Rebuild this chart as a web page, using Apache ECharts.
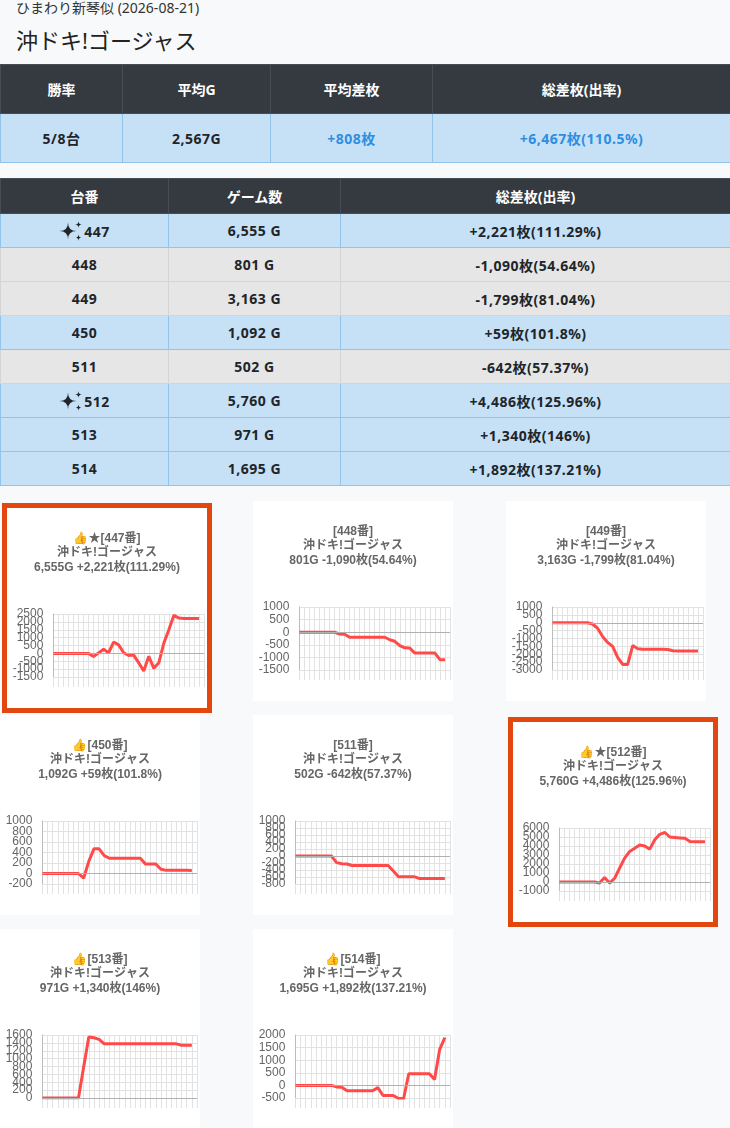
<!DOCTYPE html>
<html>
<head>
<meta charset="utf-8">
<script src="https://cdn.jsdelivr.net/npm/echarts@6/dist/echarts.min.js"></script>
<style>
  body { margin: 0; background: #f8f9fa; font-family: "Noto Sans", "Noto Sans CJK JP", sans-serif; color: #212529; }
  .store { position: absolute; left: 16px; top: 0; font-size: 14px; line-height: 16px; color: #333; }
  .machine { position: absolute; left: 16px; top: 26px; font-size: 22px; line-height: 28px; color: #222; }
  table { position: absolute; left: 0; width: 730px; border-collapse: collapse; table-layout: fixed; }
  th { background: #343a40; color: #fff; font-weight: bold; font-size: 14px; border: 1px solid #454d55; padding: 0; }
  td { text-align: center; font-weight: bold; font-size: 14px; letter-spacing: 0.5px; padding: 0; }
  tr.info td { background: #c6e1f6; border: 1px solid #92c3ea; }
  tr.gray td { background: #e6e6e6; border: 1px solid #d4d4d4; }
  #sum { top: 64px; }
  #sum th, #sum td { height: 48px; }
  #sum td.plus { color: #2f8ee0; }
  #units { top: 178px; }
  #units th { height: 34px; }
  #units td { height: 33px; }
  .spark { vertical-align: -4px; margin-right: 1px; }
  .card { position: absolute; width: 200px; height: 200px; background: #fff; }
  .card.hot { border: 5px solid #e2470f; }
</style>
</head>
<body>
<div class="store">ひまわり新琴似 (2026-08-21)</div>
<div class="machine">沖ドキ!ゴージャス</div>
<table id="sum"></table>
<table id="units"></table>
<div id="cards"></div>
<script>
// 集計
var sumHead = ['勝率', '平均G', '平均差枚', '総差枚(出率)'];
var sumVals = ['5/8台', '2,567G', '+808枚', '+6,467枚(110.5%)'];
var sumWidths = [122, 148, 162, 298];

// 台別
var unitHead = ['台番', 'ゲーム数', '総差枚(出率)'];
var unitNos = ['447', '448', '449', '450', '511', '512', '513', '514'];
var unitGames = ['6,555 G', '801 G', '3,163 G', '1,092 G', '502 G', '5,760 G', '971 G', '1,695 G'];
var unitDiff = ['+2,221枚(111.29%)', '-1,090枚(54.64%)', '-1,799枚(81.04%)', '+59枚(101.8%)',
                '-642枚(57.37%)', '+4,486枚(125.96%)', '+1,340枚(146%)', '+1,892枚(137.21%)'];
var unitRow = ['info', 'gray', 'gray', 'info', 'gray', 'info', 'info', 'info'];
var unitStar = [true, false, false, false, false, true, false, false];
var unitWidths = [168, 172, 390];

// グラフ
var cardTitles = [
  ['👍★[447番]', '沖ドキ!ゴージャス', '6,555G +2,221枚(111.29%)'],
  ['[448番]', '沖ドキ!ゴージャス', '801G -1,090枚(54.64%)'],
  ['[449番]', '沖ドキ!ゴージャス', '3,163G -1,799枚(81.04%)'],
  ['👍[450番]', '沖ドキ!ゴージャス', '1,092G +59枚(101.8%)'],
  ['[511番]', '沖ドキ!ゴージャス', '502G -642枚(57.37%)'],
  ['👍★[512番]', '沖ドキ!ゴージャス', '5,760G +4,486枚(125.96%)'],
  ['👍[513番]', '沖ドキ!ゴージャス', '971G +1,340枚(146%)'],
  ['👍[514番]', '沖ドキ!ゴージャス', '1,695G +1,892枚(137.21%)']
];
var xLabels = ['1','2','3','4','5','6','7','8','9','10','11','12','13','14','15','16',
               '17','18','19','20','21','22','23','24','25','26','27','28','29','30','31'];
var d447 = [0,0,0,0,0,0,0,0,-200,30,260,40,720,540,40,-130,-110,-600,-1120,-180,-950,-600,650,1500,2420,2240,2221,2221,2221,2221];
var d448 = [0,0,0,0,0,0,0,0,-70,-80,-200,-200,-200,-200,-200,-200,-200,-200,-300,-360,-530,-620,-630,-830,-830,-830,-830,-830,-1090,-1090];
var d449 = [0,0,0,0,0,0,0,0,-80,-350,-870,-1250,-1500,-2200,-2650,-2650,-1450,-1650,-1680,-1680,-1680,-1680,-1680,-1700,-1780,-1790,-1790,-1790,-1790,-1799];
var d450 = [0,0,0,0,0,0,0,0,-90,230,470,470,340,290,290,290,290,290,290,290,180,180,180,80,60,60,60,60,60,59];
var d511 = [0,0,0,0,0,0,0,0,-190,-220,-230,-270,-270,-270,-270,-270,-270,-270,-270,-430,-590,-590,-590,-590,-640,-640,-640,-640,-640,-642];
var d512 = [0,0,0,0,0,0,0,0,-100,500,-120,420,1550,2650,3400,3750,4100,4000,3650,4700,5300,5500,5000,4950,4900,4850,4500,4486,4486,4486];
var d513 = [0,0,0,0,0,0,0,0,780,1550,1530,1490,1375,1375,1375,1375,1375,1375,1375,1375,1375,1375,1375,1375,1375,1375,1375,1340,1340,1340];
var d514 = [0,0,0,0,0,0,0,0,-60,-70,-210,-210,-210,-210,-210,-210,-90,-400,-400,-400,-520,-520,460,460,460,460,460,230,1430,1892];
var cardData = [d447, d448, d449, d450, d511, d512, d513, d514];
var yMins = [-1500, -1500, -3000, -200, -800, -1000, 0, -500];
var yMaxs = [2500, 1000, 1000, 1000, 1000, 6000, 1600, 2000];
var yStep = [500, 500, 500, 200, 200, 1000, 200, 500];
var cardHot = [true, false, false, false, false, true, false, false];

var sparkSvg = '<svg class="spark" width="24" height="20" viewBox="0 0 24 20">' +
  '<path fill="#212529" d="M9 1.5 Q9 10 17.5 10 Q9 10 9 18.5 Q9 10 0.5 10 Q9 10 9 1.5Z"/>' +
  '<path fill="#212529" d="M19.5 0 Q19.5 3.5 23 3.5 Q19.5 3.5 19.5 7 Q19.5 3.5 16 3.5 Q19.5 3.5 19.5 0Z"/>' +
  '<path fill="#212529" d="M19.5 13 Q19.5 16.5 22.5 16.5 Q19.5 16.5 19.5 20 Q19.5 16.5 16.5 16.5 Q19.5 16.5 19.5 13Z"/>' +
  '</svg>';

function buildTables() {
  var h = '<colgroup>';
  sumWidths.forEach(function (w) { h += '<col style="width:' + w + 'px">'; });
  h += '</colgroup><tr>';
  sumHead.forEach(function (t) { h += '<th>' + t + '</th>'; });
  h += '</tr><tr class="info">';
  sumVals.forEach(function (t) {
    h += '<td class="' + (t.charAt(0) === '+' ? 'plus' : '') + '">' + t + '</td>';
  });
  h += '</tr>';
  document.getElementById('sum').innerHTML = h;

  var u = '<colgroup>';
  unitWidths.forEach(function (w) { u += '<col style="width:' + w + 'px">'; });
  u += '</colgroup><tr>';
  unitHead.forEach(function (t) { u += '<th>' + t + '</th>'; });
  u += '</tr>';
  unitNos.forEach(function (no, i) {
    u += '<tr class="' + unitRow[i] + '"><td>' + (unitStar[i] ? sparkSvg : '') + no + '</td>' +
         '<td>' + unitGames[i] + '</td><td>' + unitDiff[i] + '</td></tr>';
  });
  document.getElementById('units').innerHTML = u;
}

var font = '"Liberation Sans", Arial, "Noto Sans CJK JP", sans-serif';
var ctx = document.createElement('canvas').getContext('2d');
ctx.font = '12px ' + font;

function labelWidth(min, max, step) {
  var w = 0;
  for (var v = min; v <= max; v += step) {
    w = Math.max(w, ctx.measureText(String(v)).width);
  }
  return w;
}

// labels are split over two stacked axes so every tick keeps its label
function yAxisFor(i, part) {
  var min = yMins[i], step = yStep[i];
  return {
    type: 'value',
    position: 'left',
    min: min,
    max: yMaxs[i],
    interval: step,
    axisLine: { show: part === 0, lineStyle: { color: '#bcbcbc' } },
    axisTick: { show: false },
    axisLabel: {
      color: '#666', fontSize: 12, margin: 10, fontFamily: font,
      showMinLabel: true, showMaxLabel: true, hideOverlap: false,
      formatter: function (v) {
        var k = Math.round((v - min) / step);
        return k % 2 === part ? String(v) : '';
      }
    },
    splitLine: { show: part === 0, lineStyle: { color: '#e2e2e2' } }
  };
}

function buildCards() {
  var box = document.getElementById('cards');
  cardData.forEach(function (data, i) {
    var col = i % 3, row = Math.floor(i / 3);
    var x = col * 253, y = 501 + row * 214;
    var el = document.createElement('div');
    el.className = 'card' + (cardHot[i] ? ' hot' : '');
    el.style.left = (cardHot[i] ? x + 2 : x) + 'px';
    el.style.top = (cardHot[i] ? y + 2 : y) + 'px';
    box.appendChild(el);

    var chart = echarts.init(el, null, { width: 200, height: 200 });
    var left = 5.7 + labelWidth(yMins[i], yMaxs[i], yStep[i]) + 10;
    chart.setOption({
      animation: false,
      title: {
        text: cardTitles[i].join('\n'),
        left: 'center',
        top: 23,
        padding: 0,
        textStyle: { fontSize: 12, fontWeight: 'bold', color: '#666', lineHeight: 14.5, fontFamily: font }
      },
      grid: { left: left, right: 3, top: 106, bottom: 31 },
      xAxis: {
        type: 'category',
        data: xLabels,
        boundaryGap: false,
        axisLabel: { show: false },
        axisLine: { show: true, onZero: false, lineStyle: { color: '#e2e2e2' } },
        axisTick: { show: true, length: 10, interval: 0, lineStyle: { color: '#e2e2e2' } },
        splitLine: { show: true, interval: 0, lineStyle: { color: '#e2e2e2' } }
      },
      yAxis: [yAxisFor(i, 0), yAxisFor(i, 1)],
      series: [{
        type: 'line',
        data: data,
        showSymbol: false,
        lineStyle: { width: 3, color: '#ff4a4a' },
        itemStyle: { color: '#ff4a4a' },
        markLine: {
          silent: true,
          symbol: 'none',
          label: { show: false },
          lineStyle: { color: '#b0b0b0', width: 1, type: 'solid' },
          data: [{ yAxis: 0 }]
        },
        z: 3
      }]
    });
  });
}

buildTables();
buildCards();
</script>
</body>
</html>
